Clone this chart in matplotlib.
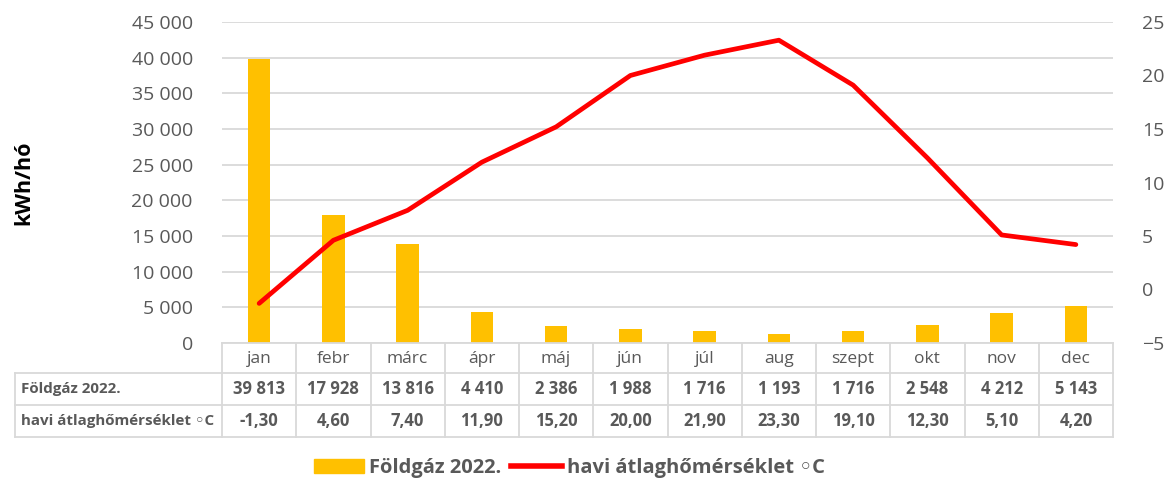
import matplotlib.pyplot as plt
from matplotlib.lines import Line2D
from matplotlib.patches import Rectangle

plt.rcParams['font.family'] = ['Open Sans', 'DejaVu Sans']

months = ["jan", "febr", "márc", "ápr", "máj", "jún", "júl", "aug", "szept", "okt", "nov", "dec"]
gas = [39813, 17928, 13816, 4410, 2386, 1988, 1716, 1193, 1716, 2548, 4212, 5143]
temp = [-1.30, 4.60, 7.40, 11.90, 15.20, 20.00, 21.90, 23.30, 19.10, 12.30, 5.10, 4.20]
gas_label = "Földgáz 2022."
temp_label = "havi átlaghőmérséklet ◦C"

GREY = "#595959"
GRID = "#d9d9d9"
BAR = "#FFC000"
RED = "#FF0000"

W, H = 1164, 483
fig = plt.figure(figsize=(W / 100, H / 100), dpi=100)

# plot area in pixel coords
px_l, px_r, px_t, px_b = 222, 1113, 22, 343
ax = fig.add_axes([px_l / W, 1 - px_b / H, (px_r - px_l) / W, (px_b - px_t) / H])
x = list(range(len(months)))
ax.bar(x, gas, width=0.3, color=BAR, zorder=2)
ax.set_xlim(-0.5, len(months) - 0.5)
ax.set_ylim(0, 45000)
ax.set_yticks(range(0, 45001, 5000))
ax.set_yticklabels([f"{v:,}".replace(",", " ") for v in range(0, 45001, 5000)])
ax.yaxis.grid(True, color=GRID, lw=1.3, zorder=0)
ax.set_xticks([])
for s in ax.spines.values():
    s.set_visible(False)
ax.tick_params(axis='y', length=0, labelsize=14, labelcolor=GREY, pad=21)
ax.set_ylabel("kWh/hó", fontsize=15.5, fontweight='bold', color='black')
ax.yaxis.set_label_coords(-(px_l - 34) / (px_r - px_l), 0.5)

ax2 = ax.twinx()
ax2.plot(x, temp, color=RED, lw=3.4, solid_capstyle='round', zorder=3)
ax2.set_ylim(-5, 25)
ax2.set_yticks(range(-5, 26, 5))
for s in ax2.spines.values():
    s.set_visible(False)
ax2.tick_params(axis='y', length=0, labelsize=14, labelcolor=GREY, pad=21)

# data table below the plot
col_w = (px_r - px_l) / len(months)
rows_y = [343, 373, 405, 437]
lab_l = 15


def fx(p):
    return p / W


def fy(p):
    return 1 - p / H


lw = 1.3
# horizontal lines
fig.add_artist(Line2D([fx(px_l), fx(px_r)], [fy(rows_y[0])] * 2, color=GRID, lw=lw))
for yy in rows_y[1:]:
    fig.add_artist(Line2D([fx(lab_l), fx(px_r)], [fy(yy)] * 2, color=GRID, lw=lw))
# vertical lines
fig.add_artist(Line2D([fx(lab_l)] * 2, [fy(rows_y[1]), fy(rows_y[3])], color=GRID, lw=lw))
for i in range(len(months) + 1):
    xx = px_l + i * col_w
    fig.add_artist(Line2D([fx(xx)] * 2, [fy(rows_y[0]), fy(rows_y[3])], color=GRID, lw=lw))

for i, m in enumerate(months):
    cx = fx(px_l + (i + 0.5) * col_w)
    fig.text(cx, fy((rows_y[0] + rows_y[1]) / 2 + 1), m, ha='center', va='center',
             fontsize=12.5, color=GREY)
    fig.text(cx, fy((rows_y[1] + rows_y[2]) / 2), f"{gas[i]:,}".replace(",", " "),
             ha='center', va='center', fontsize=12, fontweight='bold', color=GREY)
    fig.text(cx, fy((rows_y[2] + rows_y[3]) / 2), f"{temp[i]:.2f}".replace(".", ","),
             ha='center', va='center', fontsize=12, fontweight='bold', color=GREY)

fig.text(fx(lab_l + 6), fy((rows_y[1] + rows_y[2]) / 2), gas_label, ha='left', va='center',
         fontsize=10.9, fontweight='bold', color=GREY)
fig.text(fx(lab_l + 6), fy((rows_y[2] + rows_y[3]) / 2), temp_label, ha='left', va='center',
         fontsize=10.9, fontweight='bold', color=GREY)

# legend
handles = [Rectangle((0, 0), 1, 1, color=BAR), Line2D([], [], color=RED, lw=4)]
fig.legend(handles, [gas_label, temp_label], loc='center', bbox_to_anchor=(569 / W, fy(468)),
           ncol=2, frameon=False, handlelength=2.5, handleheight=0.7, columnspacing=0.5,
           handletextpad=0.25, prop={'size': 14.5, 'weight': 'bold'}, labelcolor=GREY)

fig.savefig("out.png", dpi=100)
